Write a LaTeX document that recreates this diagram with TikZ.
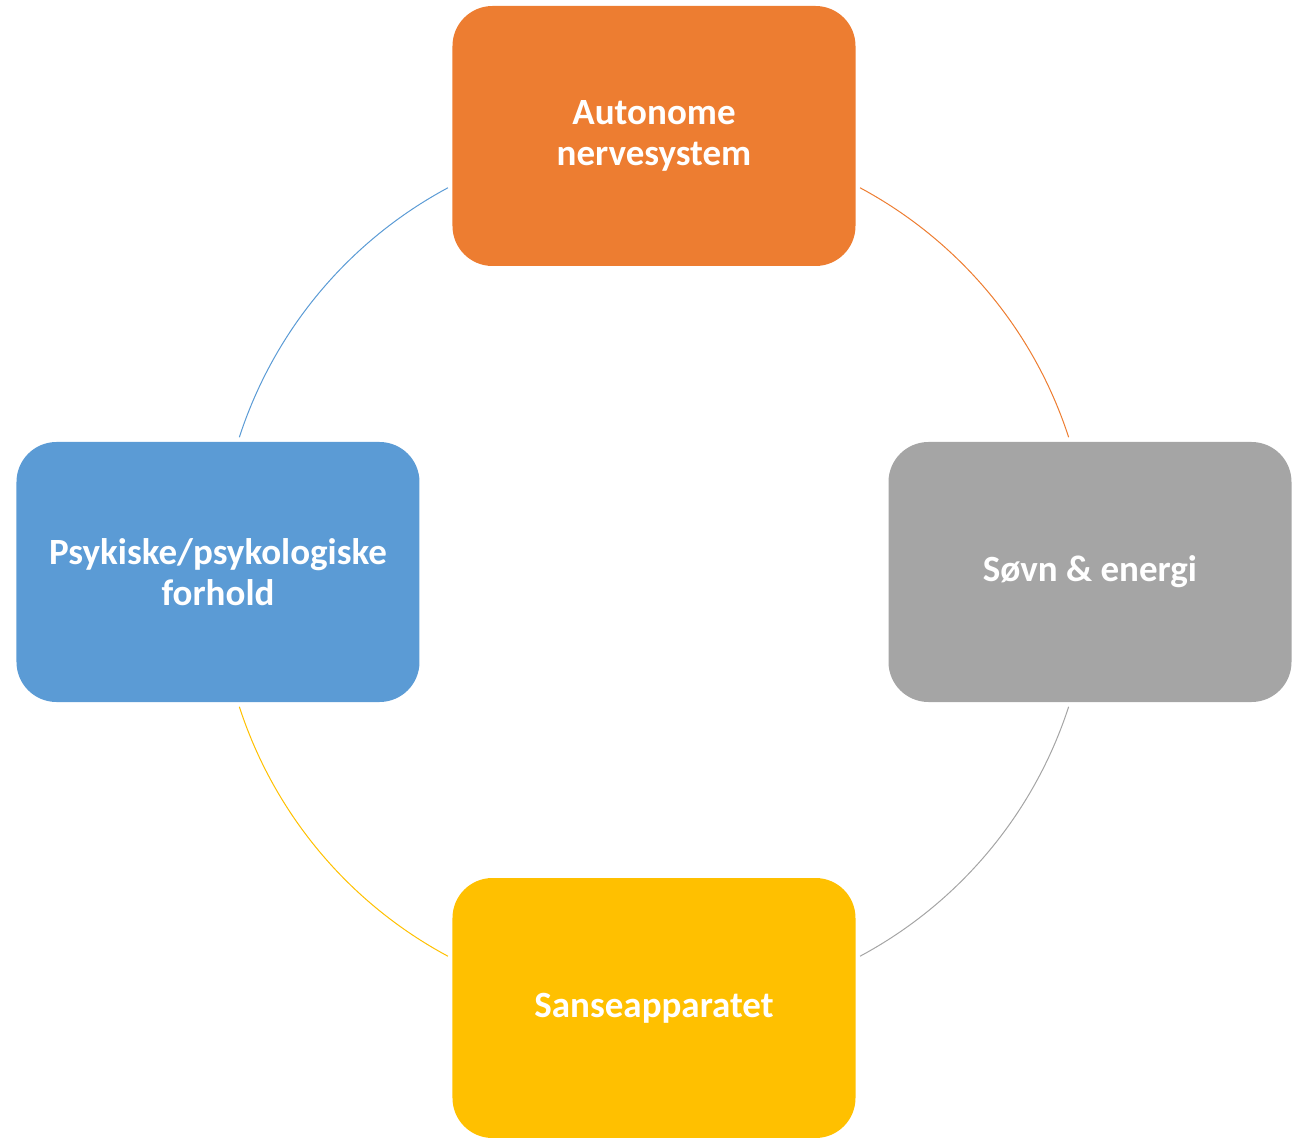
\documentclass[tikz,border=0pt]{standalone}
\usepackage{fontspec}
\setmainfont{Carlito}
\definecolor{acorange}{HTML}{ED7D31}
\definecolor{acgray}{HTML}{A5A5A5}
\definecolor{acyellow}{HTML}{FFC000}
\definecolor{acblue}{HTML}{5B9BD5}
\begin{document}
\begin{tikzpicture}[
	x=1pt, y=1pt,
	font=\fontsize{37}{41}\selectfont\bfseries,
	box/.style={rectangle, rounded corners=40pt, minimum width=403pt, minimum height=260pt,
		inner sep=0pt, text=white, align=center},
	ring/.style={line width=1pt},
	]
\useasboundingbox (-654,-566) rectangle (648,572);
\coordinate (c) at (0,0);
\node [box, fill=acorange] (ans) at (0,436) {Autonome\\nervesystem};
\node [box, fill=acgray] (sov) at (436,0) {Søvn \& energi};
\node [box, fill=acyellow] (san) at (0,-436) {Sanseapparatet};
\node [box, fill=acblue] (psy) at (-436,0) {Psykiske/psykologiske\\forhold};
% arcs between the boxes
\draw [ring, acorange] ([shift={(61.8:436)}]c) arc [start angle=61.8, end angle=18, radius=436];
\draw [ring, acgray] ([shift={(-18:436)}]c) arc [start angle=-18, end angle=-61.8, radius=436];
\draw [ring, acyellow] ([shift={(-118.2:436)}]c) arc [start angle=-118.2, end angle=-162, radius=436];
\draw [ring, acblue] ([shift={(162:436)}]c) arc [start angle=162, end angle=118.2, radius=436];
\end{tikzpicture}
\end{document}
